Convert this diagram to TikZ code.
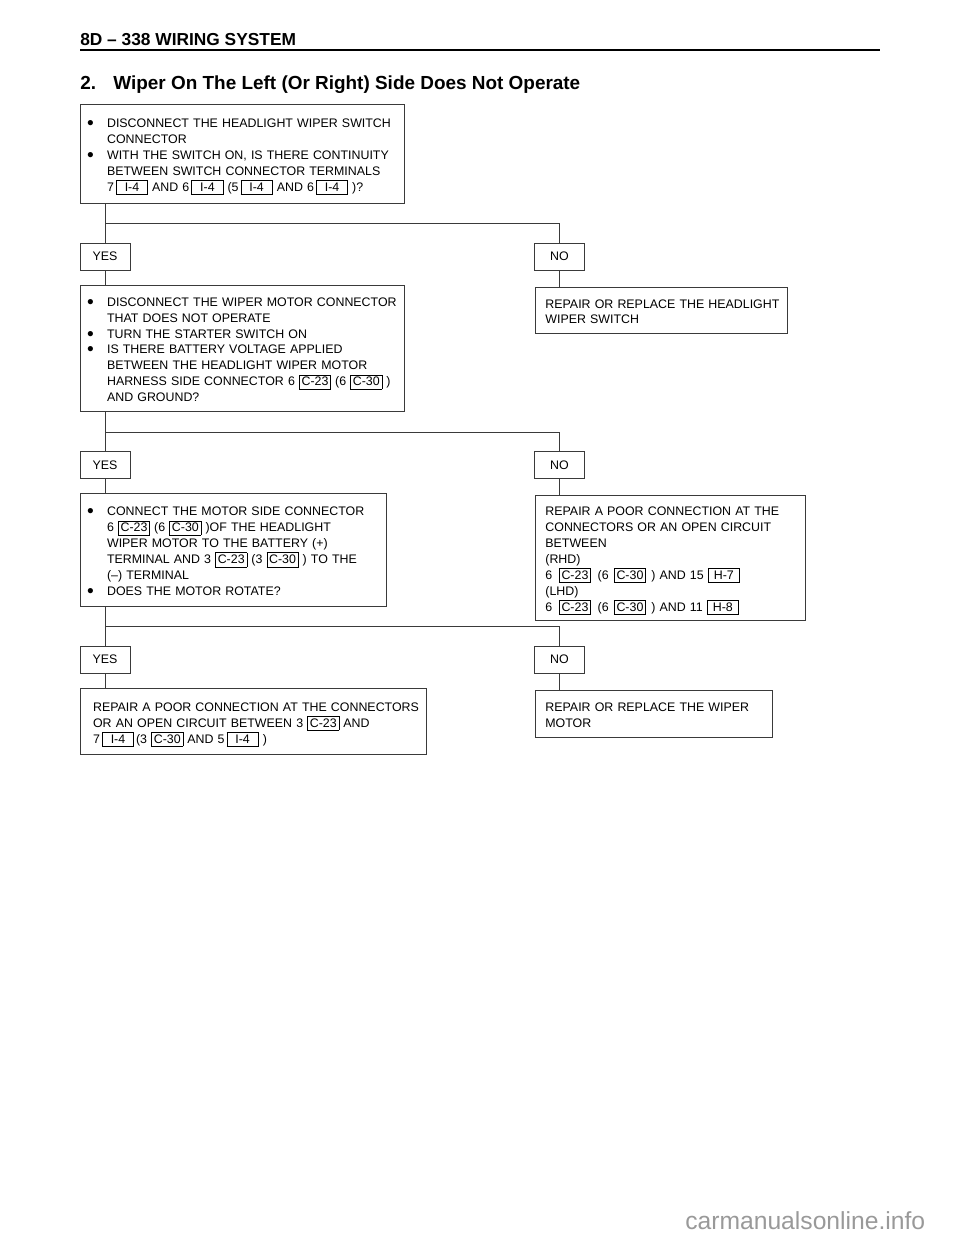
\documentclass[tikz,border=0pt]{standalone}
\usepackage{fontspec}
\setmainfont{Liberation Sans}
\usepackage{graphicx}
\usepackage{tikz}
\usetikzlibrary{calc}
\definecolor{linea}{HTML}{3A3A3A}
% connector code in a small frame
\newcommand{\conn}[1]{{\setlength{\fboxsep}{0pt}\setlength{\fboxrule}{0.5pt}%
  \framebox[24pt]{\rule[-2.2pt]{0pt}{10.2pt}#1}}}
\newcommand{\bul}{\makebox[15pt][l]{\smash{\raisebox{-1.5pt}{\scalebox{1.55}{\textbullet}}}}}
\newcommand{\ind}{\hspace*{15pt}}
\newcommand{\lines}[1]{\raisebox{-1.9pt}[\height][\depth]{\begin{tabular}{@{}l@{}}#1\end{tabular}}}

\begin{document}
\begin{tikzpicture}[x=0.75pt, y=-0.75pt,
      font=\fontsize{9.3pt}{11.85pt}\selectfont,
      box/.style={draw=linea, line width=0.6pt, align=left, anchor=north west,
                  inner ysep=0pt},
      yn/.style={draw=linea, line width=0.6pt, minimum width=37.5pt,
                 minimum height=20.25pt, inner sep=0pt},
      con/.style={draw=linea, line width=0.6pt}]
    \useasboundingbox (0,0) rectangle (960,1242);
    % heading
    \node[anchor=base west, inner sep=0pt, font=\fontsize{13pt}{15pt}\selectfont\bfseries]
      (hdr) at (80,45) {8D -- 338 WIRING SYSTEM};
    \draw[line width=1.5pt] (80,50) -- (880,50);
    \node[anchor=base west, inner sep=0pt, font=\fontsize{14.2pt}{17pt}\selectfont\bfseries]
      (ttl) at (80,89) {2.\hspace{13pt}Wiper On The Left (Or Right) Side Does Not Operate};

    % step 1
    \node[box, inner xsep=5pt, text width=233pt, minimum height=74.25pt] (q1) at (80,104)
      {\lines{\bul DISCONNECT THE HEADLIGHT WIPER SWITCH\\
       \ind CONNECTOR\\
       \bul WITH THE SWITCH ON, IS THERE CONTINUITY\\
       \ind BETWEEN SWITCH CONNECTOR TERMINALS\\
       \ind 7\,\conn{I-4}\,\,AND 6\,\conn{I-4}\,\,(5\,\conn{I-4}\,\,AND 6\,\conn{I-4}\,\,)?}};
    \node[yn] (y1) at (105,256.5) {YES};
    \node[yn] (n1) at (559.5,256.5) {NO};
    \coordinate (b1) at (105,223);
    \node[box, inner xsep=7.5pt, text width=174pt, minimum height=34.5pt] (r1) at (535,287)
      {\lines{REPAIR OR REPLACE THE HEADLIGHT\\
       WIPER SWITCH}};

    % step 2
    \node[box, inner xsep=5pt, text width=233pt, minimum height=94.5pt] (q2) at (80,285)
      {\lines{\bul DISCONNECT THE WIPER MOTOR CONNECTOR\\
       \ind THAT DOES NOT OPERATE\\
       \bul TURN THE STARTER SWITCH ON\\
       \bul IS THERE BATTERY VOLTAGE APPLIED\\
       \ind BETWEEN THE HEADLIGHT WIPER MOTOR\\
       \ind HARNESS SIDE CONNECTOR 6 \conn{C-23} (6 \conn{C-30} )\\
       \ind AND GROUND?}};
    \node[yn] (y2) at (105,465) {YES};
    \node[yn] (n2) at (559.5,465) {NO};
    \coordinate (b2) at (105,432);
    \node[box, inner xsep=7.5pt, text width=187.5pt, minimum height=93.75pt] (r2) at (535,495)
      {\lines{REPAIR A POOR CONNECTION AT THE\\
       CONNECTORS OR AN OPEN CIRCUIT\\
       BETWEEN\\
       (RHD)\\
       6\hspace{5pt}\conn{C-23}\hspace{5pt}(6\hspace{4pt}\conn{C-30}\hspace{4pt}) AND 15 \conn{H-7}\\
       (LHD)\\
       6\hspace{5pt}\conn{C-23}\hspace{5pt}(6\hspace{4pt}\conn{C-30}\hspace{4pt}) AND 11 \conn{H-8}}};

    % step 3
    \node[box, inner xsep=5pt, text width=219.5pt, minimum height=84.75pt] (q3) at (80,493)
      {\lines{\bul CONNECT THE MOTOR SIDE CONNECTOR\\
       \ind 6 \conn{C-23} (6 \conn{C-30} )OF THE HEADLIGHT\\
       \ind WIPER MOTOR TO THE BATTERY (+)\\
       \ind TERMINAL AND 3 \conn{C-23} (3 \conn{C-30} ) TO THE\\
       \ind (--) TERMINAL\\
       \bul DOES THE MOTOR ROTATE?}};
    \node[yn] (y3) at (105,659.5) {YES};
    \node[yn] (n3) at (559.5,659.5) {NO};
    \coordinate (b3) at (105,626);
    \node[box, inner xsep=9.5pt, text width=240.5pt, minimum height=49.5pt] (q4) at (80,688)
      {\lines{REPAIR A POOR CONNECTION AT THE CONNECTORS\\
       OR AN OPEN CIRCUIT BETWEEN 3 \conn{C-23} AND\\
       7\,\conn{I-4}\,(3 \conn{C-30} AND 5\,\conn{I-4}\,\,)}};
    \node[box, inner xsep=7.5pt, text width=162.75pt, minimum height=35.25pt] (r3) at (535,690)
      {\lines{REPAIR OR REPLACE THE WIPER\\
       MOTOR}};

    % connectors
    \draw[con] (q1.south -| y1) -- (y1.north);
    \draw[con] (b1) -| (n1.north);
    \draw[con] (y1.south) -- (y1.south |- q2.north);
    \draw[con] (n1.south) -- (n1.south |- r1.north);
    \draw[con] (q2.south -| y2) -- (y2.north);
    \draw[con] (b2) -| (n2.north);
    \draw[con] (y2.south) -- (y2.south |- q3.north);
    \draw[con] (n2.south) -- (n2.south |- r2.north);
    \draw[con] (q3.south -| y3) -- (y3.north);
    \draw[con] (b3) -| (n3.north);
    \draw[con] (y3.south) -- (y3.south |- q4.north);
    \draw[con] (n3.south) -- (n3.south |- r3.north);

    \node[anchor=base west, inner sep=0pt, text=black!40, font=\fontsize{18.5pt}{20pt}\selectfont]
      (wm) at (685,1229) {carmanualsonline.info};
  \end{tikzpicture}
\end{document}
